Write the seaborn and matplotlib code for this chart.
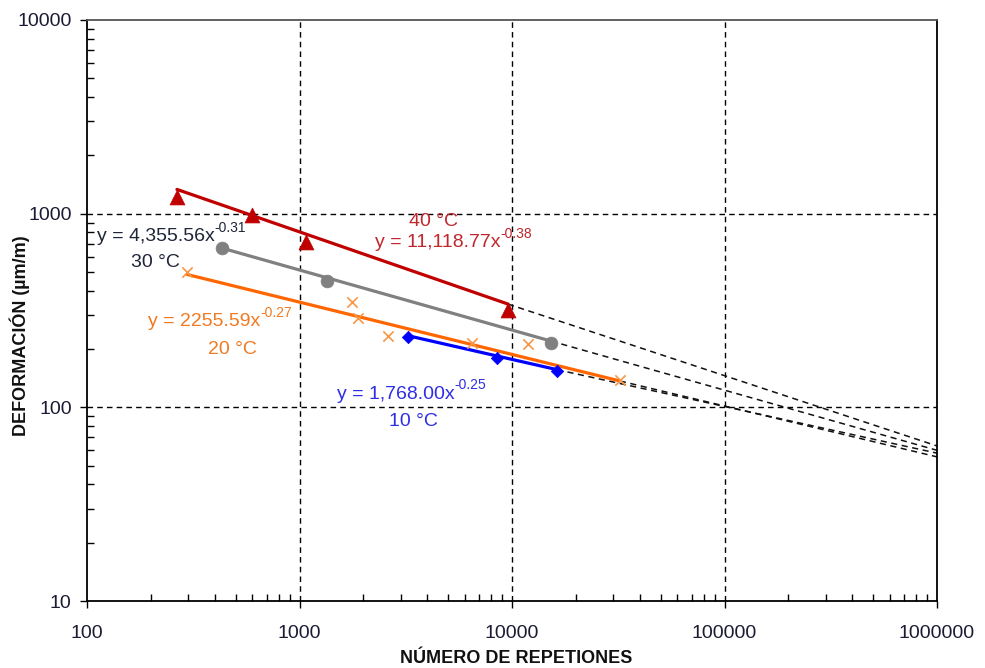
import numpy as np
import pandas as pd
import matplotlib
matplotlib.use("Agg")
import matplotlib.pyplot as plt
import seaborn as sns
from matplotlib.ticker import LogLocator, FixedLocator, NullFormatter

# ---- data ----
x_10 = [3240, 8490, 16285]
y_10 = [231, 180, 154]
x_20 = [296, 1766, 1884, 2609, 6486, 11885, 32200]
y_20 = [500, 350, 290, 234, 215, 212, 138.5]
x_30 = [431, 1346, 15260]
y_30 = [665, 449, 215]
x_40 = [265, 598, 1073, 9575]
y_40 = [1219, 985, 714, 318]

series = ["10 °C", "20 °C", "30 °C", "40 °C"]
coef_a = [1768.00, 2255.59, 4355.56, 11118.77]
coef_b = [-0.25, -0.27, -0.31, -0.38]
eq_labels = ["y = 1,768.00x", "y = 2255.59x", "y = 4,355.56x", "y = 11,118.77x"]
exp_labels = ["-0.25", "-0.27", "-0.31", "-0.38"]
# projection (dashed) lines: end point at 1,000,000 repetitions
x_ext_end = 1000000
y_ext_end = [58.0, 55.5, 60.0, 63.2]

y_ticks = [10, 100, 1000, 10000]
x_ticks = [100, 1000, 10000, 100000, 1000000]

sns.set_style("white")
plt.rcParams["font.family"] = ["Liberation Sans", "DejaVu Sans"]
plt.rcParams["axes.unicode_minus"] = False

line_cols = ["#0000FF", "#FF6600", "#808080", "#C00000"]
mark_cols = ["#0000FF", "#F79646", "#808080", "#C00000"]
text_cols = ["#2E2EE6", "#F07A22", "#1F2638", "#C0272D"]
markers = ["D", "x", "o", "^"]
msizes = [40, 55, 85, 115]

xs = [x_10, x_20, x_30, x_40]
ys = [y_10, y_20, y_30, y_40]

fig = plt.figure(figsize=(9.85, 6.68), dpi=100)
ax = fig.add_axes([87/985, 1-601/668, 850/985, 581/668])
ax.set_xscale("log")
ax.set_yscale("log")
ax.set_xlim(100, 1000000)
ax.set_ylim(10, 10000)

# grid
for v in x_ticks[1:-1]:
    ax.axvline(v, color="black", lw=1.0, dashes=(4, 3), zorder=1)
for v in y_ticks[1:-1]:
    ax.axhline(v, color="black", lw=1.0, dashes=(4, 3), zorder=1)

for i in range(4):
    a, b = coef_a[i], coef_b[i]
    x0, x1 = min(xs[i]), max(xs[i])
    # dashed projection
    ext = pd.DataFrame({"x": [x1, x_ext_end], "y": [a * x1 ** b, y_ext_end[i]]})
    sns.lineplot(data=ext, x="x", y="y", ax=ax, color="#111111", lw=1.1,
                 zorder=2, estimator=None, sort=False)
    ax.lines[-1].set_dashes((4, 3))
    # trend line
    fit = pd.DataFrame({"x": [x0, x1], "y": [a * x0 ** b, a * x1 ** b]})
    sns.lineplot(data=fit, x="x", y="y", ax=ax, color=line_cols[i], lw=2.3,
                 zorder=3, estimator=None, sort=False)
    # points
    pts = pd.DataFrame({"x": xs[i], "y": ys[i]})
    if markers[i] == "x":
        sns.scatterplot(data=pts, x="x", y="y", ax=ax, marker="x", color=mark_cols[i],
                        s=msizes[i], linewidth=1.2, zorder=4)
    else:
        sns.scatterplot(data=pts, x="x", y="y", ax=ax, marker=markers[i], color=mark_cols[i],
                        s=msizes[i], edgecolor=mark_cols[i], linewidth=0.5, zorder=4)

# annotations
fs = 14
def eq(i, x, y):
    t = ax.text(x, y, eq_labels[i], color=text_cols[i], fontsize=fs,
                ha="left", va="center", zorder=5)
    ax.annotate(exp_labels[i], xy=(1.0, 0.62), xycoords=t, color=text_cols[i],
                fontsize=10, ha="left", va="bottom", zorder=5)

eq(3, 2265, 706)
ax.text(4250, 906, series[3], color=text_cols[3], fontsize=fs, ha="center", va="center")
eq(2, 111.4, 758)
ax.text(209, 557, series[2], color=text_cols[2], fontsize=fs, ha="center", va="center")
eq(1, 193.7, 276)
ax.text(486, 198, series[1], color=text_cols[1], fontsize=fs, ha="center", va="center")
eq(0, 1500, 117)
ax.text(3420, 84, series[0], color=text_cols[0], fontsize=fs, ha="center", va="center")

# ticks
ax.xaxis.set_major_locator(FixedLocator(x_ticks))
ax.yaxis.set_major_locator(FixedLocator(y_ticks))
ax.set_xticklabels([str(v) for v in x_ticks])
ax.set_yticklabels([str(v) for v in y_ticks])
ax.xaxis.set_minor_locator(LogLocator(base=10, subs=np.arange(2, 10)))
ax.yaxis.set_minor_locator(LogLocator(base=10, subs=np.arange(2, 10)))
ax.xaxis.set_minor_formatter(NullFormatter())
ax.yaxis.set_minor_formatter(NullFormatter())
ax.tick_params(which="both", bottom=True, left=True, top=False, right=False)
ax.tick_params(axis="both", which="major", direction="out", length=5, width=1,
               labelsize=14, labelcolor="#1b1b33", color="black")
ax.tick_params(axis="x", which="major", pad=12)
ax.tick_params(axis="y", which="major", pad=6)
ax.tick_params(axis="both", which="minor", direction="in", length=5, width=1, color="black")

for s in ["left", "bottom", "right"]:
    ax.spines[s].set_color("black")
    ax.spines[s].set_linewidth(1.3)
ax.spines["top"].set_color("#555555")
ax.spines["top"].set_linewidth(1.3)

ax.set_xlabel("NÚMERO DE REPETIONES", fontsize=13, fontweight="bold", color="#111111")
ax.set_ylabel("")
ax.xaxis.set_label_coords(0.505, -0.085)
fig.text(20/985, 1-336/668, "DEFORMACIÓN (µm/m)", rotation=90, fontsize=13,
         fontweight="bold", color="#111111", ha="center", va="center")

fig.savefig("out.png", dpi=100)
